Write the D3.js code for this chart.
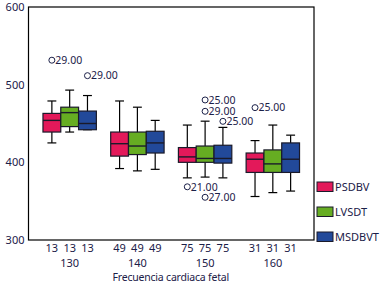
<!DOCTYPE html>
<html lang="es">
<head>
<meta charset="UTF-8">
<title>Boxplot FCF</title>
<style>
  body { margin: 0; background: #fff; }
  text { font-family: "Noto Sans", "Open Sans", sans-serif; fill: #1b2048; }
</style>
</head>
<body>
<script src="https://d3js.org/d3.v7.min.js"></script>
<script>
// groups on the x axis and sample counts under each box
const groups = ["130", "140", "150", "160"];
const counts = [13, 49, 75, 31];
const seriesNames = ["PSDBV", "LVSDT", "MSDBVT"];
const colors = ["#e3195a", "#66ad22", "#22499a"];

// five number summaries [min, q1, median, q3, max], one row per group
const psdbv = [
  [425, 439, 454, 463, 479],
  [392, 408, 424, 439, 479],
  [380, 400, 407, 419, 448],
  [356, 387, 404, 412, 428]
];
const lvsdt = [
  [439, 446, 464, 471, 493],
  [389, 410, 421, 439, 471],
  [381, 400, 405, 421, 453],
  [361, 387, 398, 416, 448]
];
const msdbvt = [
  [442, 442, 450, 466, 486],
  [391, 412, 425, 440, 454],
  [380, 399, 405, 422, 445],
  [363, 387, 404, 425, 435]
];

// outliers: group, series index, value, case label
const outliers = [
  { g: "130", s: 0, v: 531.5, label: "29.00" },
  { g: "130", s: 2, v: 511.6, label: "29.00" },
  { g: "150", s: 0, v: 368.5, label: "21.00" },
  { g: "150", s: 1, v: 480.3, label: "25.00" },
  { g: "150", s: 1, v: 465.7, label: "29.00" },
  { g: "150", s: 1, v: 355.0, label: "27.00" },
  { g: "150", s: 2, v: 452.8, label: "25.00" },
  { g: "160", s: 0, v: 470.4, label: "25.00" }
];

const yTicks = [300, 400, 500, 600];

const width = 383, height = 289;
const plotLeft = 28.5, plotRight = 314, plotTop = 7, plotBottom = 240;

const svg = d3.select("body").append("svg")
  .attr("width", width)
  .attr("height", height);

const x = d3.scalePoint().domain(groups).range([plotLeft, plotRight]).padding(0.608);
const xs = d3.scaleBand().domain(seriesNames).range([-26.7, 26.7]);
const y = d3.scaleLinear().domain([300, 600]).range([plotBottom, plotTop]);

// frame
svg.append("rect")
  .attr("x", plotLeft).attr("y", plotTop)
  .attr("width", plotRight - plotLeft).attr("height", plotBottom - plotTop)
  .attr("fill", "none").attr("stroke", "#000").attr("stroke-width", 1.2);

// y axis labels
svg.selectAll(".ytick")
  .data(yTicks)
  .enter().append("text")
  .attr("x", plotLeft - 4)
  .attr("y", d => y(d))
  .attr("dy", "0.35em")
  .attr("text-anchor", "end")
  .attr("font-size", 11)
  .text(d => d);

const allSeries = [psdbv, lvsdt, msdbvt];

allSeries.forEach((data, si) => {
  const name = seriesNames[si];
  const bw = xs.bandwidth();
  const g = svg.append("g");
  data.forEach((d, gi) => {
    const cx = x(groups[gi]) + xs(name) + bw / 2;
    const x0 = x(groups[gi]) + xs(name);
    // whiskers
    g.append("line")
      .attr("x1", cx).attr("x2", cx)
      .attr("y1", y(d[4])).attr("y2", y(d[0]))
      .attr("stroke", "#000").attr("stroke-width", 1.2);
    [d[0], d[4]].forEach(v => {
      g.append("line")
        .attr("x1", cx - bw / 4).attr("x2", cx + bw / 4)
        .attr("y1", y(v)).attr("y2", y(v))
        .attr("stroke", "#000").attr("stroke-width", 1.2);
    });
    // box
    g.append("rect")
      .attr("x", x0).attr("width", bw)
      .attr("y", y(d[3])).attr("height", y(d[1]) - y(d[3]))
      .attr("fill", colors[si])
      .attr("stroke", "#1a1a2a").attr("stroke-width", 1.2);
    // median
    g.append("line")
      .attr("x1", x0).attr("x2", x0 + bw)
      .attr("y1", y(d[2])).attr("y2", y(d[2]))
      .attr("stroke", "#1a1a2a").attr("stroke-width", 1.4);
    // count label
    svg.append("text")
      .attr("x", cx)
      .attr("y", 252)
      .attr("text-anchor", "middle")
      .attr("font-size", 11)
      .text(counts[gi]);
  });
});

// outliers
outliers.forEach(o => {
  const cx = x(o.g) + xs(seriesNames[o.s]) + xs.bandwidth() / 2;
  svg.append("circle")
    .attr("cx", cx).attr("cy", y(o.v)).attr("r", 3)
    .attr("fill", "none").attr("stroke", "#1b2048").attr("stroke-width", 1);
  svg.append("text")
    .attr("x", cx + 3.5)
    .attr("y", y(o.v))
    .attr("dy", "0.36em")
    .attr("font-size", 10.5)
    .text(o.label);
});

// group labels
svg.selectAll(".glab")
  .data(groups)
  .enter().append("text")
  .attr("x", d => x(d))
  .attr("y", 267)
  .attr("text-anchor", "middle")
  .attr("font-size", 11)
  .text(d => d);

svg.append("text")
  .attr("x", x("140") + (x("150") - x("140")) / 2 - 0.5)
  .attr("y", 281)
  .attr("text-anchor", "middle")
  .attr("font-size", 10.5)
  .attr("letter-spacing", -0.2)
  .text("Frecuencia cardiaca fetal");

// legend
const legend = svg.append("g");
seriesNames.forEach((n, i) => {
  const ly = 182 + i * 25;
  legend.append("rect")
    .attr("x", 317).attr("y", ly)
    .attr("width", 16).attr("height", 9.5)
    .attr("fill", colors[i]).attr("stroke", "#1a1a2a").attr("stroke-width", 1);
  legend.append("text")
    .attr("x", 335).attr("y", ly + 5)
    .attr("dy", "0.35em")
    .attr("font-size", 11)
    .text(n);
});
</script>
</body>
</html>
